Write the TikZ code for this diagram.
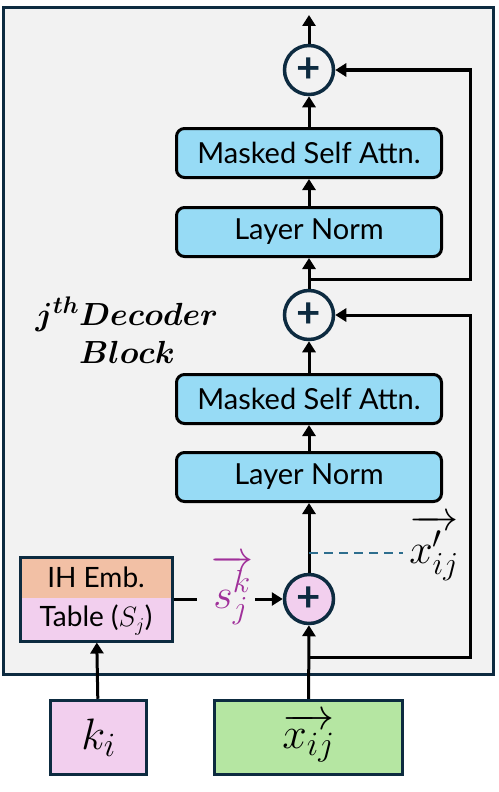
\RequirePackage{fix-cm}
\documentclass[tikz,border=0pt]{standalone}
\usepackage{fontspec}
\usepackage{amsmath}
\usepackage{bm}
\setsansfont{Lato}
\usetikzlibrary{arrows.meta}

\DeclareMathSizes{44}{44}{34}{26}
\DeclareMathSizes{42}{42}{32}{24}
\DeclareMathSizes{32}{32}{24}{18}

\definecolor{fondo}{HTML}{F2F2F2}
\definecolor{marino}{HTML}{0D2B40}
\definecolor{celeste}{HTML}{97DBF5}
\definecolor{rosa}{HTML}{F2CFEE}
\definecolor{naranja}{HTML}{F2C0A5}
\definecolor{verde}{HTML}{B5E6A2}
\definecolor{morado}{HTML}{A0309A}
\definecolor{azulguion}{HTML}{2E6E8E}

\tikzset{
  flecha/.style={-{Triangle[length=11pt,width=13pt]}, line width=3pt},
  capa/.style={draw=black, fill=celeste, line width=3pt, rounded corners=8pt,
    minimum width=265pt, minimum height=49pt, inner sep=0pt,
    font=\sffamily\fontsize{29}{33}\selectfont},
  suma/.style={circle, draw=marino, line width=3.5pt, fill=fondo, minimum size=49pt,
    inner sep=0pt, text=marino, font=\sffamily\bfseries\fontsize{42}{42}\selectfont},
  entrada/.style={draw=marino, line width=3.5pt, minimum height=74pt, inner sep=0pt,
    font=\fontsize{44}{50}\selectfont}
}

\begin{document}
\begin{tikzpicture}[x=1pt,y=-1pt]
  \useasboundingbox (0,0) rectangle (498,792);

  % Bloque
  \draw[draw=marino, fill=fondo, line width=3pt] (3,8) rectangle (493,674);
  \node[align=center, font=\fontsize{32}{38}\selectfont] (titulo) at (127,330)
    {$\bm{j^{th}Decoder}$\\$\bm{Block}$};

  % Capas
  \node[suma] (suma3) at (309,70) {+};
  \node[capa] (atn2) at (309,153) {Masked Self Attn.};
  \node[capa] (norm2) at (309,232) {Layer Norm};
  \node[suma] (suma2) at (309,315) {+};
  \node[capa] (atn1) at (309,399) {Masked Self Attn.};
  \node[capa] (norm1) at (309,477) {Layer Norm};
  \node[suma, fill=rosa] (suma1) at (309,599) {+};

  % Entradas
  \node[entrada, fill=verde, minimum width=188pt] (xij) at (308.5,737.5) {$\overrightarrow{x_{ij}}$};
  \node[entrada, fill=rosa, minimum width=96pt] (ki) at (98.5,737.5) {$k_i$};

  % Tabla
  \fill[naranja] (20,557) rectangle (172,598);
  \fill[rosa] (20,598) rectangle (172,641);
  \node[draw=marino, line width=3pt, minimum width=152pt, minimum height=84pt] (tabla) at (96,599) {};
  \node[font=\sffamily\fontsize{28}{32}\selectfont] (ihemb) at (96,577) {IH Emb.};
  \node[font=\sffamily\fontsize{28}{32}\selectfont] (tabj) at (96,620) {Table ($S_j$)};

  % Etiquetas
  \node[text=morado, inner sep=0pt, font=\fontsize{42}{48}\selectfont] (sjk) at (232,590) {$\overrightarrow{s_j^k}$};
  \node[inner sep=0pt, font=\fontsize{42}{48}\selectfont] (xp) at (434,548) {$\overrightarrow{x'_{ij}}$};

  % Puntos de paso
  \coordinate (salida) at (309,15);
  \coordinate (rama2) at (309,279);
  \coordinate (der2) at (470,279);
  \coordinate (rama1) at (309,657);
  \coordinate (der1) at (470,657);
  \coordinate (rama0) at (309,553);
  \coordinate (guion) at (403,553);

  % Flechas
  \draw[flecha] (suma3) -- (salida);
  \draw[flecha] (atn2) -- (suma3);
  \draw[flecha] (norm2) -- (atn2);
  \draw[flecha] (suma2) -- (norm2);
  \draw[flecha] (atn1) -- (suma2);
  \draw[flecha] (norm1) -- (atn1);
  \draw[flecha] (suma1) -- (norm1);
  \draw[flecha] (xij) -- (suma1);
  \draw[flecha] (ki) -- (tabla);
  \draw[flecha] (rama2) -- (der2) |- (suma3);
  \draw[flecha] (rama1) -- (der1) |- (suma2);
  \draw[line width=3pt] (tabla.east) -- ([xshift=-14pt]tabla.east -| sjk.west);
  \draw[flecha] ([xshift=2pt]sjk.east |- suma1) -- (suma1);

  % Linea discontinua
  \draw[azulguion, line width=2pt, dash pattern=on 9pt off 6pt] (rama0) -- (guion);
\end{tikzpicture}
\end{document}
